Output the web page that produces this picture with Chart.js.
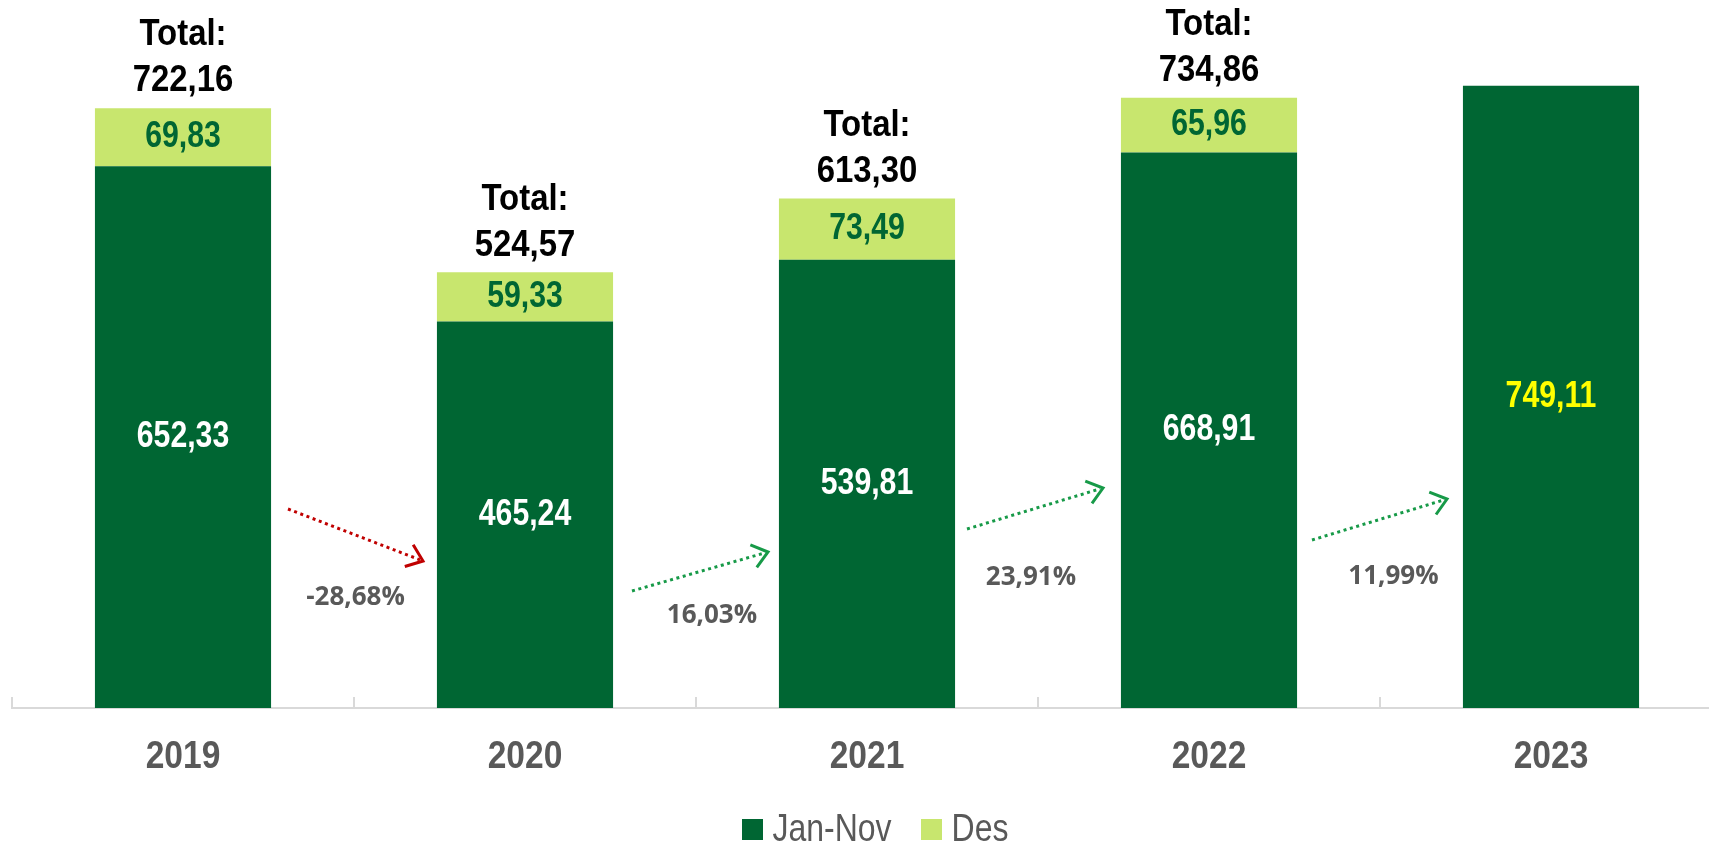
<!DOCTYPE html>
<html>
<head>
<meta charset="utf-8">
<script src="https://cdn.jsdelivr.net/npm/chart.js@4.4.0/dist/chart.umd.min.js"></script>
<style>
  html, body { margin: 0; padding: 0; background: #ffffff; overflow: hidden; }
  canvas { display: block; }
</style>
</head>
<body>
<canvas id="chart" width="1722" height="847"></canvas>
<script>
// Yearly figures, split into January–November and December
const years = ['2019', '2020', '2021', '2022', '2023'];
const janNov = [652.33, 465.24, 539.81, 668.91, 749.11];
const des = [69.83, 59.33, 73.49, 65.96, null];
const totals = [722.16, 524.57, 613.30, 734.86, null];
// Jan–Nov growth from one year to the next
const growth = [-28.68, 16.03, 23.91, 11.99];
const growthLabels = ['-28,68%', '16,03%', '23,91%', '11,99%'];
const seriesNames = ['Jan-Nov', 'Des'];

const SANS = '"Liberation Sans", Arial, sans-serif';
const DARK_GREEN = '#006633';
const LIGHT_GREEN = '#C8E66E';
const GREY = '#595959';

const fmt = v => v.toFixed(2).replace('.', ',');

// Condensed text: regular sans face squeezed horizontally
function narrowText(ctx, text, x, y, size, weight, color, squeeze, align) {
  ctx.save();
  ctx.font = weight + ' ' + size + 'px ' + SANS;
  ctx.fillStyle = color;
  ctx.textAlign = align || 'center';
  ctx.textBaseline = 'middle';
  ctx.translate(x, y);
  ctx.scale(squeeze, 1);
  ctx.fillText(text, 0, 0);
  ctx.restore();
}
function narrowWidth(ctx, text, size, weight, squeeze) {
  ctx.save();
  ctx.font = weight + ' ' + size + 'px ' + SANS;
  const w = ctx.measureText(text).width * squeeze;
  ctx.restore();
  return w;
}

// Growth arrows between neighbouring bars (offsets in px from the axis line)
const arrowLayout = [
  { dx0: 105, dx1: -102, y0: -199, y1: -147, lx: 0,  ly: -110 },
  { dx0: 107, dx1: -99,  y0: -117, y1: -156, lx: 12, ly: -92 },
  { dx0: 100, dx1: -106, y0: -179, y1: -220, lx: -4, ly: -130 },
  { dx0: 103, dx1: -104, y0: -168, y1: -209, lx: 14, ly: -131 }
];

// Category tick marks pointing up from the axis, year labels and legend
const axisDecor = {
  id: 'axisDecor',
  afterDraw(chart) {
    const x = chart.scales.x;
    const ctx = chart.ctx;
    const w = x.width / years.length;
    const yb = chart.chartArea.bottom;
    ctx.save();
    ctx.strokeStyle = '#D9D9D9';
    ctx.lineWidth = 2;
    for (let i = 0; i <= years.length; i++) {
      const px = Math.round(x.left + i * w);
      ctx.beginPath();
      ctx.moveTo(px, yb);
      ctx.lineTo(px, yb - 11);
      ctx.stroke();
    }
    ctx.restore();

    years.forEach((yr, i) => {
      narrowText(ctx, yr, x.getPixelForValue(i), yb + 49, 39, 'bold', GREY, 0.86);
    });

    // legend
    const colors = [DARK_GREEN, LIGHT_GREEN];
    const box = 21, gap = 10, itemGap = 29, size = 39, sq = 0.82;
    const widths = seriesNames.map(n => narrowWidth(ctx, n, size, 'normal', sq));
    const total = widths.reduce((s, tw) => s + box + gap + tw, 0) + itemGap * (seriesNames.length - 1);
    let lx = (chart.chartArea.left + chart.chartArea.right) / 2 + 8 - total / 2;
    const ly = yb + 121;
    seriesNames.forEach((n, i) => {
      ctx.fillStyle = colors[i];
      ctx.fillRect(Math.round(lx), Math.round(ly - box / 2), box, box);
      narrowText(ctx, n, lx + box + gap, ly + 1, size, 'normal', GREY, sq, 'left');
      lx += box + gap + widths[i] + itemGap;
    });
  }
};

const barLabels = {
  id: 'barLabels',
  afterDatasetsDraw(chart) {
    const ctx = chart.ctx;
    const m0 = chart.getDatasetMeta(0);
    const m1 = chart.getDatasetMeta(1);
    m0.data.forEach((bar, i) => {
      narrowText(ctx, fmt(janNov[i]), bar.x, (bar.y + bar.base) / 2, 36, 'bold',
        des[i] == null ? '#FFFF00' : '#FFFFFF', 0.84);
    });
    m1.data.forEach((bar, i) => {
      if (des[i] == null) return;
      narrowText(ctx, fmt(des[i]), bar.x, (bar.y + bar.base) / 2, 36, 'bold', DARK_GREEN, 0.84);
      narrowText(ctx, 'Total:', bar.x, bar.y - 73, 37, 'bold', '#000000', 0.89);
      narrowText(ctx, fmt(totals[i]), bar.x, bar.y - 27, 37, 'bold', '#000000', 0.89);
    });
  }
};

const growthArrows = {
  id: 'growthArrows',
  afterDraw(chart) {
    const ctx = chart.ctx;
    const x = chart.scales.x;
    const yb = chart.chartArea.bottom;
    ctx.save();
    growth.forEach((g, i) => {
      const L = arrowLayout[i];
      const color = g < 0 ? '#C00000' : '#179A48';
      const x0 = x.getPixelForValue(i) + L.dx0;
      const x1 = x.getPixelForValue(i + 1) + L.dx1;
      const y0 = yb + L.y0;
      const y1 = yb + L.y1;
      // dotted shaft
      ctx.strokeStyle = color;
      ctx.lineWidth = 3;
      ctx.lineCap = 'butt';
      ctx.setLineDash([3, 3.6]);
      ctx.beginPath();
      ctx.moveTo(x0, y0);
      ctx.lineTo(x1 - 3, y1 - 3 * (y1 - y0) / (x1 - x0));
      ctx.stroke();
      // open arrow head
      ctx.setLineDash([]);
      const a = Math.atan2(y1 - y0, x1 - x0) + Math.PI;
      const len = 19, spread = 0.66;
      ctx.lineJoin = 'miter';
      ctx.beginPath();
      ctx.moveTo(x1 + len * Math.cos(a + spread), y1 + len * Math.sin(a + spread));
      ctx.lineTo(x1, y1);
      ctx.lineTo(x1 + len * Math.cos(a - spread), y1 + len * Math.sin(a - spread));
      ctx.stroke();
      // percentage
      ctx.font = 'bold 26px "Open Sans", sans-serif';
      ctx.fillStyle = GREY;
      ctx.textAlign = 'center';
      ctx.textBaseline = 'middle';
      ctx.fillText(growthLabels[i], (x0 + x1) / 2 + L.lx, yb + L.ly);
    });
    ctx.restore();
  }
};

new Chart(document.getElementById('chart'), {
  type: 'bar',
  data: {
    labels: years,
    datasets: [
      { label: seriesNames[0], data: janNov, backgroundColor: DARK_GREEN, borderWidth: 0 },
      { label: seriesNames[1], data: des, backgroundColor: LIGHT_GREEN, borderWidth: 0 }
    ]
  },
  options: {
    responsive: false,
    animation: false,
    devicePixelRatio: 1,
    layout: { padding: { left: 12, right: 0, top: 2, bottom: 139 } },
    datasets: { bar: { categoryPercentage: 1, barPercentage: 0.515 } },
    scales: {
      x: {
        stacked: true,
        grid: { display: false, drawTicks: false },
        border: { display: true, color: '#D9D9D9', width: 2 },
        ticks: { display: false }
      },
      y: {
        stacked: true,
        display: false,
        min: 0,
        max: 850
      }
    },
    plugins: {
      legend: { display: false },
      tooltip: { enabled: false }
    }
  },
  plugins: [barLabels, axisDecor, growthArrows]
});
</script>
</body>
</html>
